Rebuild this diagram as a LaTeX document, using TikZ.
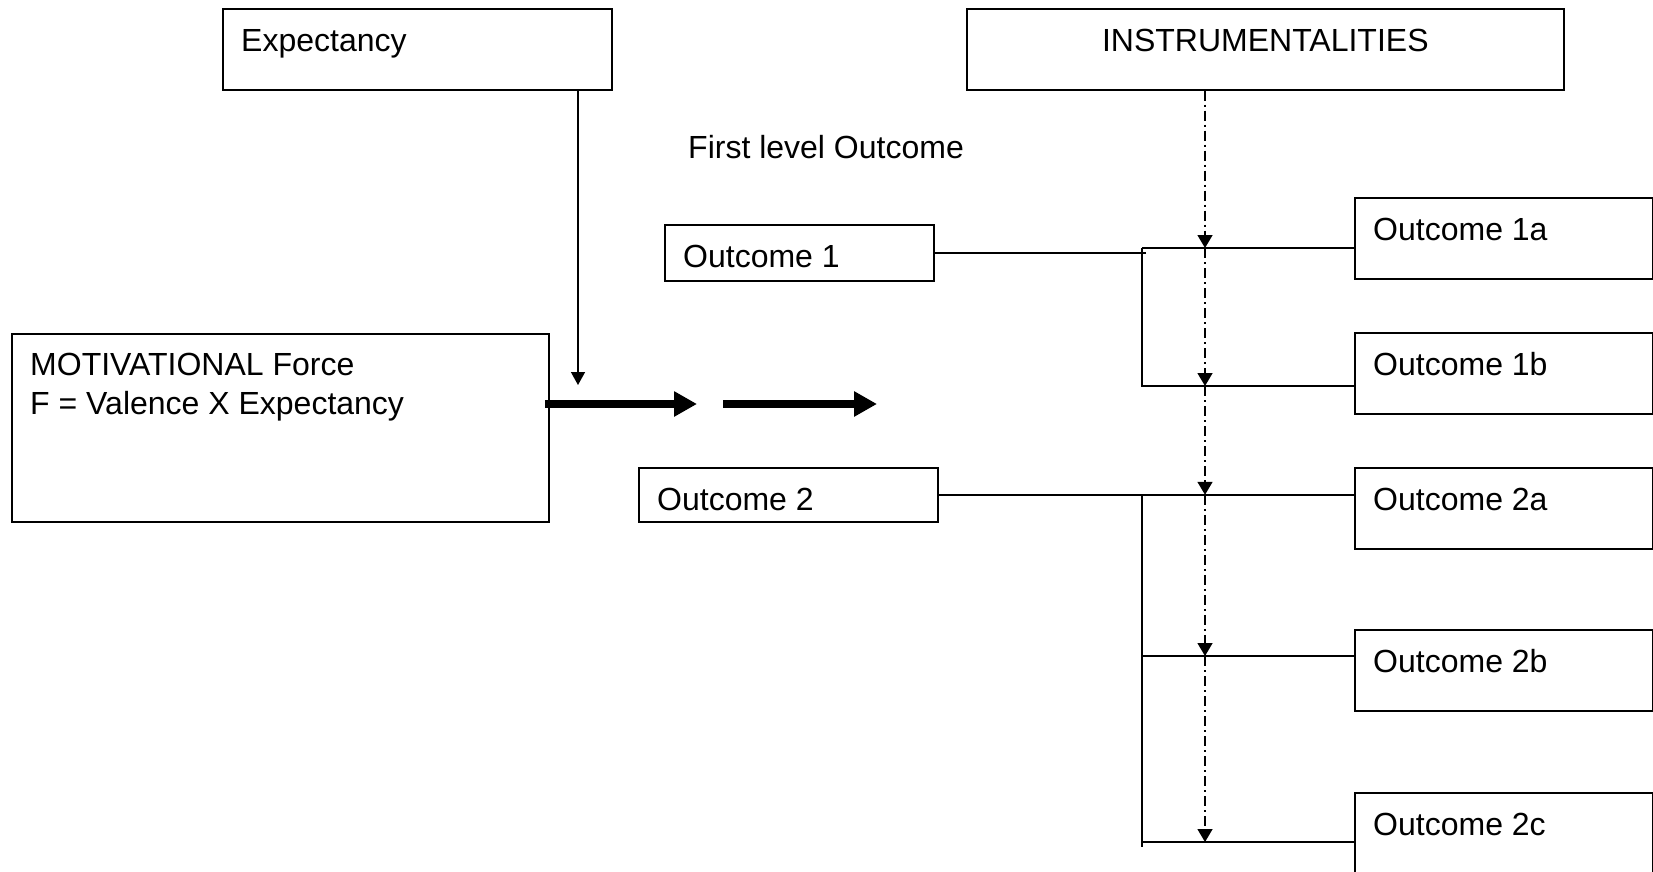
\documentclass[tikz,border=0pt]{standalone}
\usepackage{fontspec}
\setmainfont{Liberation Sans}
\usetikzlibrary{arrows.meta}

\tikzset{
  box/.style={draw, line width=1.6pt, rectangle, anchor=north west, inner sep=0pt},
  boxtext/.style={anchor=base west, inner sep=0pt, font=\fontsize{32}{39}\selectfont},
  link/.style={line width=1.6pt},
  thinarrow/.style={line width=1.5pt, -{Triangle[length=13pt,width=14pt]}},
  fatarrow/.style={line width=8pt, -{Triangle[length=23pt,width=24pt]}},
  instarrow/.style={line width=1.5pt, dash pattern=on 10pt off 4pt on 2pt off 4pt,
    -{Triangle[length=13pt,width=15pt]}},
}

\begin{document}
\begin{tikzpicture}[x=1pt, y=-1pt]
\useasboundingbox (0,0) rectangle (1653,871);

% top row
\node[box, minimum width=389pt, minimum height=81pt] (expbox) at (222,8) {};
\node[boxtext] (exptxt) at ([xshift=19pt,yshift=-43pt]expbox.north west) {Expectancy};
\node[box, minimum width=597pt, minimum height=81pt] (instbox) at (966,8) {};
\node[boxtext, anchor=base] (insttxt) at ([yshift=-43pt]instbox.north) {INSTRUMENTALITIES};
\node[boxtext] (firsttxt) at (688,158) {First level Outcome};

% force box
\node[box, minimum width=537pt, minimum height=188pt] (motbox) at (11,333) {};
\node[boxtext] (mottxt) at ([xshift=19pt,yshift=-42pt]motbox.north west) {MOTIVATIONAL Force};
\node[boxtext] (fortxt) at ([yshift=-39pt]mottxt.base west) {F = Valence X Expectancy};

% first level outcomes
\node[box, minimum width=269pt, minimum height=56pt] (o1) at (664,224) {};
\node[boxtext] (o1txt) at ([xshift=19pt,yshift=-43pt]o1.north west) {Outcome 1};
\node[box, minimum width=299pt, minimum height=54pt] (o2) at (638,467) {};
\node[boxtext] (o2txt) at ([xshift=19pt,yshift=-43pt]o2.north west) {Outcome 2};

% second level outcomes
\foreach \n/\t/\y in {o1a/1a/197, o1b/1b/332, o2a/2a/467, o2b/2b/629, o2c/2c/792} {
  \node[box, minimum width=298pt, minimum height=81pt] (\n) at (1354,\y) {};
  \node[boxtext] (\n-txt) at ([xshift=19pt,yshift=-43pt]\n.north west) {Outcome \t};
}

% expectancy and force arrows
\coordinate (expend) at (578,385);
\draw[thinarrow] (expbox.south -| expend) -- (expend);
\coordinate (fa1) at (545,404);
\coordinate (fa1e) at (697,404);
\coordinate (fa2) at (723,404);
\coordinate (fa2e) at (877,404);
\draw[fatarrow] (fa1) -- (fa1e);
\draw[fatarrow] (fa2) -- (fa2e);

% brackets
\coordinate (o1end) at (1146,252);
\coordinate (j1a) at (1142,248);
\coordinate (j1b) at (1142,386);
\draw[link] (o1.east -| o1end) -- (o1.east);
\draw[link] (j1a) -- (j1a -| o1a.west);
\draw[link] (j1a) -- (j1b) -- (j1b -| o1b.west);

\coordinate (j2b) at (1142,656);
\coordinate (j2c) at (1142,842);
\coordinate (j2end) at (1142,847);
\draw[link] (o2.east) -- (o2.east -| o2a.west);
\draw[link] (o2.east -| j2b) -- (j2end);
\draw[link] (j2b) -- (j2b -| o2b.west);
\draw[link] (j2c) -- (j2c -| o2c.west);

% instrumentalities
\coordinate (dcol) at (1205,0);
\draw[instarrow] (instbox.south -| dcol) -- (j1a -| dcol);
\draw[instarrow] (j1a -| dcol) -- (j1b -| dcol);
\draw[instarrow] (j1b -| dcol) -- (o2.east -| dcol);
\draw[instarrow] (o2.east -| dcol) -- (j2b -| dcol);
\draw[instarrow] (j2b -| dcol) -- (j2c -| dcol);
\end{tikzpicture}
\end{document}
